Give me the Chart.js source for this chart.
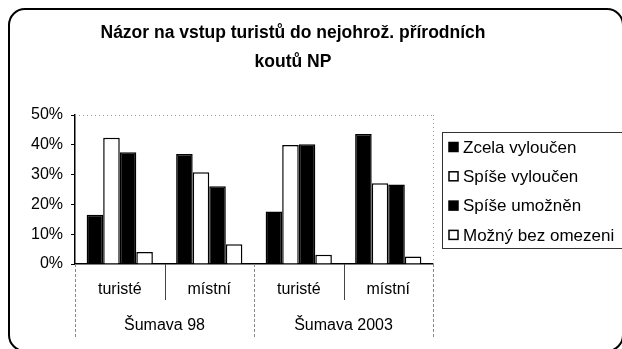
<!DOCTYPE html>
<html>
<head>
<meta charset="utf-8">
<script src="https://cdn.jsdelivr.net/npm/chart.js@4/dist/chart.umd.min.js"></script>
<style>
  html, body { margin: 0; padding: 0; background: #fff; }
  #wrap { width: 622px; height: 349px; }
</style>
</head>
<body>
<div id="wrap"><canvas id="grafica_nazor" width="622" height="349"></canvas></div>
<script>
const titulo = ['Názor na vstup turistů do nejohrož. přírodních', 'koutů NP'];
const kategorie = ['turisté', 'místní', 'turisté', 'místní'];
const skupiny = ['Šumava 98', 'Šumava 2003'];
const nazvyRad = ['Zcela vyloučen', 'Spíše vyloučen', 'Spíše umožněn', 'Možný bez omezeni'];
const zcelaVyloucen   = [16.5, 36.9, 17.6, 43.6];
const spiseVyloucen   = [42.4, 30.8, 39.9, 27.1];
const spiseUmoznen    = [37.5, 26.1, 40.2, 26.7];
const moznyBezOmezeni = [4.0, 6.6, 3.1, 2.5];
const barvy = ['#000', '#fff', '#000', '#fff'];
const osaMax = 50;
const osaKrok = 10;

const FONT = '"Liberation Sans", Arial, sans-serif';

// frame, title, plot border, multi-level category axis and legend
const dekorace = {
  id: 'dekorace',
  beforeDraw(chart) {
    const ctx = chart.ctx;
    ctx.save();
    ctx.fillStyle = '#fff';
    ctx.fillRect(0, 0, chart.width, chart.height);
    ctx.restore();
  },
  afterDraw(chart) {
    const ctx = chart.ctx;
    const a = chart.chartArea;
    const x = chart.scales.x;
    ctx.save();

    // rounded outer frame (right and bottom edges run off the canvas)
    ctx.strokeStyle = '#000';
    ctx.lineWidth = 2;
    ctx.beginPath();
    ctx.roundRect(9, 9, 614, 342, 16);
    ctx.stroke();

    // title
    ctx.fillStyle = '#000';
    ctx.font = 'bold 17.5px ' + FONT;
    ctx.textAlign = 'center';
    ctx.textBaseline = 'middle';
    ctx.fillText(titulo[0], 293, 33);
    ctx.fillText(titulo[1], 293, 62);

    // dotted plot area border (top + right)
    ctx.strokeStyle = '#999';
    ctx.lineWidth = 1;
    ctx.setLineDash([1, 3]);
    ctx.beginPath();
    ctx.moveTo(a.left, a.top + 0.5);
    ctx.lineTo(a.right, a.top + 0.5);
    ctx.moveTo(a.right + 0.5, a.top);
    ctx.lineTo(a.right + 0.5, a.bottom);
    ctx.stroke();

    // category dividers below the axis
    const krok = (x.getPixelForValue(1) - x.getPixelForValue(0));
    const hranice = [];
    for (let i = 0; i <= kategorie.length; i++) {
      hranice.push(x.getPixelForValue(i) - krok / 2);
    }
    hranice.forEach((px, i) => {
      const dlouha = i % 2 === 0;
      ctx.strokeStyle = dlouha ? '#888' : '#444';
      ctx.setLineDash(dlouha ? [3, 2] : []);
      ctx.beginPath();
      ctx.moveTo(Math.round(px) + 0.5, a.bottom);
      ctx.lineTo(Math.round(px) + 0.5, dlouha ? a.bottom + 73 : a.bottom + 36);
      ctx.stroke();
    });
    ctx.setLineDash([]);

    ctx.font = '16px ' + FONT;
    ctx.fillStyle = '#000';
    kategorie.forEach((k, i) => {
      ctx.fillText(k, x.getPixelForValue(i), a.bottom + 26);
    });
    skupiny.forEach((s, i) => {
      const stred = (x.getPixelForValue(i * 2) + x.getPixelForValue(i * 2 + 1)) / 2;
      ctx.fillText(s, stred, a.bottom + 62);
    });

    // legend
    ctx.strokeStyle = '#333';
    ctx.lineWidth = 1;
    ctx.strokeRect(442.5, 132.5, 200, 116);
    ctx.font = '17px ' + FONT;
    ctx.textAlign = 'left';
    chart.data.datasets.forEach((ds, i) => {
      const y = 147 + i * 29.3;
      ctx.fillStyle = ds.backgroundColor;
      ctx.fillRect(449, y - 4.5, 9, 9);
      ctx.strokeStyle = '#000';
      ctx.lineWidth = 1.5;
      ctx.strokeRect(449, y - 4.5, 9, 9);
      ctx.fillStyle = '#000';
      ctx.fillText(ds.label, 463, y + 1);
    });

    ctx.restore();
  }
};

const ctx = document.getElementById('grafica_nazor').getContext('2d');
const rady = [zcelaVyloucen, spiseVyloucen, spiseUmoznen, moznyBezOmezeni];

new Chart(ctx, {
  type: 'bar',
  data: {
    labels: kategorie,
    datasets: rady.map((data, i) => ({
      label: nazvyRad[i],
      data: data,
      backgroundColor: barvy[i],
      borderColor: '#000',
      borderWidth: 1.5,
      categoryPercentage: 0.74,
      barPercentage: 1.0
    }))
  },
  options: {
    responsive: false,
    animation: false,
    layout: { padding: { left: 0, top: 115, right: 189, bottom: 85 } },
    plugins: {
      legend: { display: false },
      title: { display: false },
      tooltip: { enabled: false }
    },
    scales: {
      x: {
        ticks: { display: false },
        grid: { display: false },
        border: { display: true, color: '#000', width: 1.5 },
        afterFit: (s) => { s.height = 0; }
      },
      y: {
        min: 0,
        max: osaMax,
        ticks: {
          stepSize: osaKrok,
          padding: 8,
          color: '#000',
          font: { family: FONT, size: 16 },
          callback: (v) => v + '%'
        },
        grid: { drawOnChartArea: false, drawTicks: true, tickLength: 4, color: '#000' },
        border: { display: true, color: '#000', width: 1.5 },
        afterFit: (s) => { s.width = 75; }
      }
    }
  },
  plugins: [dekorace]
});
</script>
</body>
</html>
